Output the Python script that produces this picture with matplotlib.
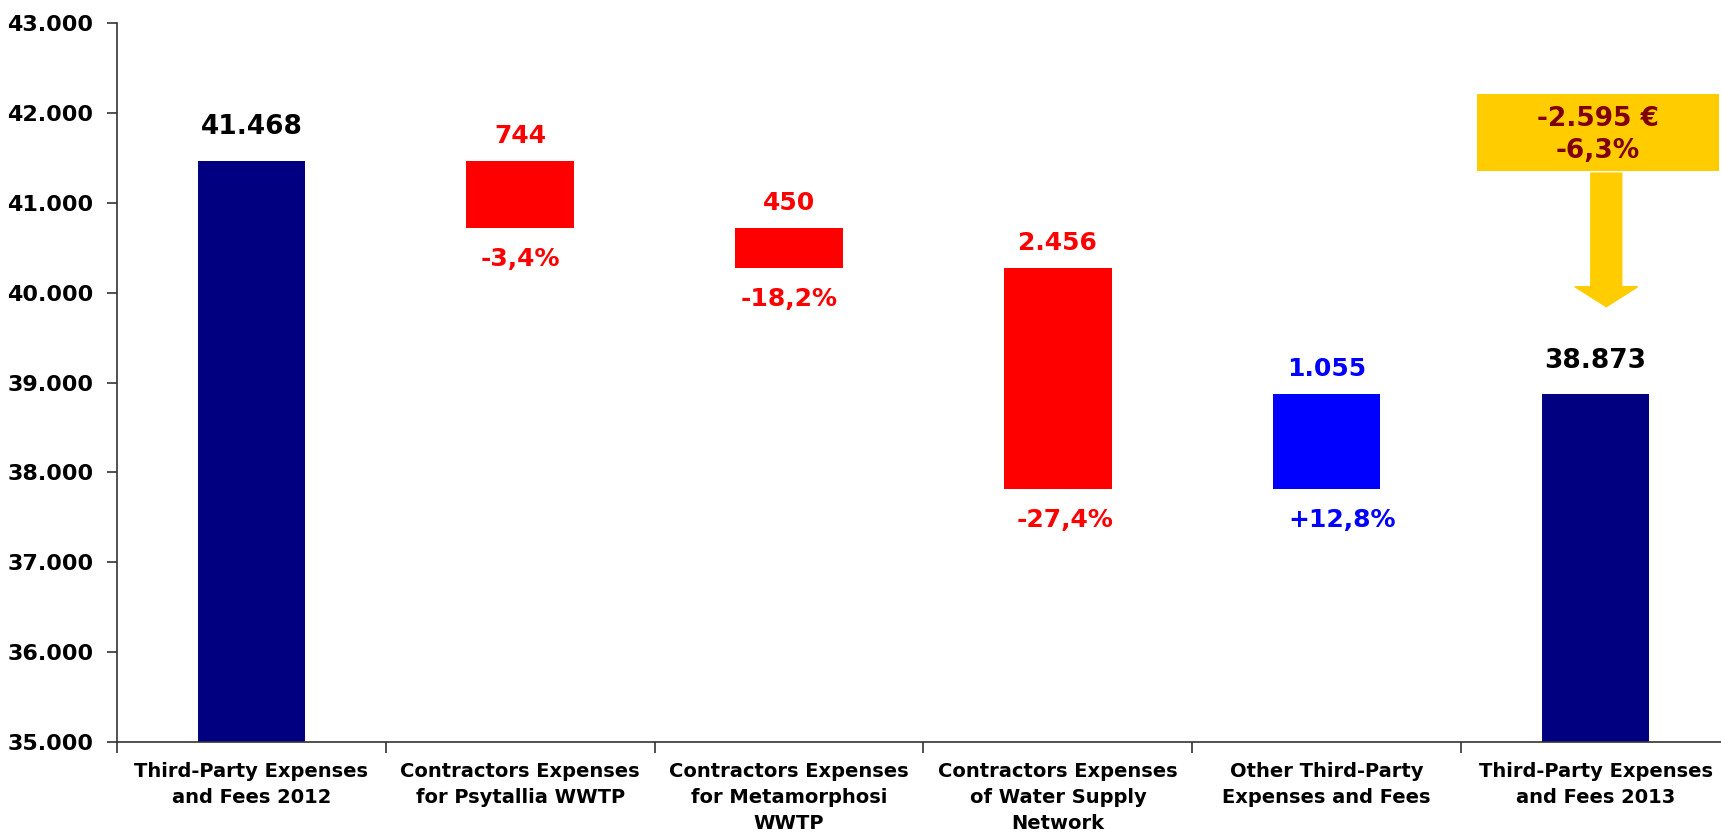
import numpy as np
import matplotlib
matplotlib.use("Agg")
import matplotlib.pyplot as plt
from matplotlib.patches import Rectangle
from matplotlib.ticker import FuncFormatter

categories = ["Third-Party Expenses\nand Fees 2012",
              "Contractors Expenses\nfor Psytallia WWTP",
              "Contractors Expenses\nfor Metamorphosi\nWWTP",
              "Contractors Expenses\nof Water Supply\nNetwork",
              "Other Third-Party\nExpenses and Fees",
              "Third-Party Expenses\nand Fees 2013"]
start_value = 41468
changes = [-744, -450, -2456, 1055]
pct_labels = ["-3,4%", "-18,2%", "-27,4%", "+12,8%"]
total_change_label = "-2.595 €\n-6,3%"

NAVY = "#000080"
RED = "#FF0000"
BLUE = "#0000FF"
GOLD = "#FFCC00"
DARKRED = "#800000"


def fmt(v):
    return f"{int(round(v)):,}".replace(",", ".")


end_value = start_value + sum(changes)

fig = plt.figure(figsize=(17.21, 8.32), dpi=100)
ax = fig.add_axes([0.068, 0.108, 0.9372, 0.8644])

x = np.arange(len(categories))
w = 0.40

# start / end totals
for xi, v in [(0, start_value), (5, end_value)]:
    ax.bar(xi, v - 35000, bottom=35000, width=w, color=NAVY)
    ax.annotate(fmt(v), (xi, v), xytext=(0, 19), textcoords="offset points",
                ha="center", va="baseline", fontsize=19, fontweight="bold",
                color="black")

# floating steps
pct_dx = [0, 0, 5, 11]
level = start_value
for i, d in enumerate(changes):
    xi = i + 1
    lo, hi = min(level, level + d), max(level, level + d)
    col = RED if d < 0 else BLUE
    ax.bar(xi, hi - lo, bottom=lo, width=w, color=col)
    ax.annotate(fmt(abs(d)), (xi, hi), xytext=(0, 13), textcoords="offset points",
                ha="center", va="baseline", fontsize=18, fontweight="bold", color=col)
    ax.annotate(pct_labels[i], (xi, lo), xytext=(pct_dx[i], -14), textcoords="offset points",
                ha="center", va="top", fontsize=18, fontweight="bold", color=col)
    level += d

# total change callout
ax.add_patch(Rectangle((4.56, 41356), 0.90, 855, facecolor=GOLD, edgecolor="none",
                       clip_on=False, zorder=3))
ax.text(5.01, 41755, total_change_label, ha="center", va="center", fontsize=19,
        fontweight="bold", color=DARKRED, linespacing=1.3, zorder=4)
ax.arrow(5.04, 41330, 0, -1486, width=0.115, head_width=0.234, head_length=222,
         length_includes_head=True, color=GOLD, clip_on=False, zorder=3)

ax.set_xlim(-0.5, 5.5)
ax.set_ylim(35000, 43000)
ax.set_yticks(np.arange(35000, 43001, 1000))
ax.yaxis.set_major_formatter(FuncFormatter(lambda v, p: fmt(v)))
ax.set_xticks(x)
ax.set_xticklabels(categories, fontsize=14, fontweight="bold", linespacing=1.47)
ax.set_xticks(np.arange(-0.5, 5.6, 1), minor=True)
ax.tick_params(axis="x", which="major", length=0, pad=14)
ax.tick_params(axis="x", which="minor", length=8, width=1.2, color="#333333")
ax.tick_params(axis="y", length=7, width=1.2, color="#333333", pad=10, labelsize=16)
for lab in ax.get_yticklabels():
    lab.set_fontweight("bold")

for s in ["top", "right"]:
    ax.spines[s].set_visible(False)
for s in ["left", "bottom"]:
    ax.spines[s].set_color("#333333")
    ax.spines[s].set_linewidth(1.2)

fig.savefig("out.png", dpi=100)
